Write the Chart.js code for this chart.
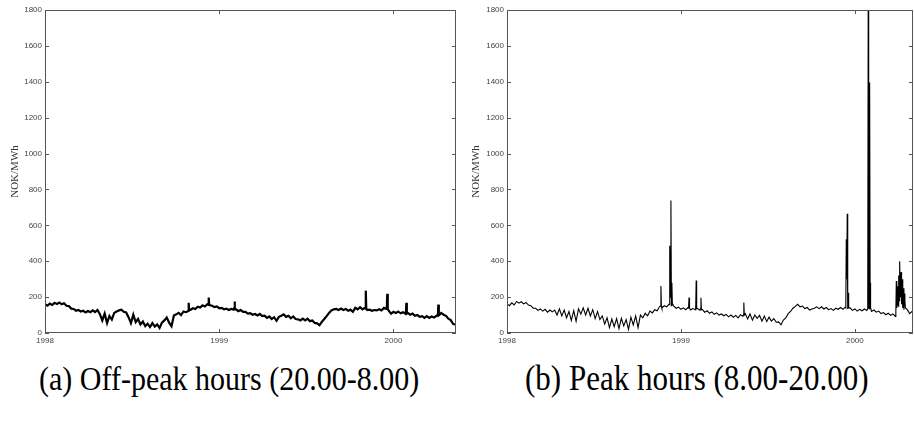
<!DOCTYPE html>
<html><head><meta charset="utf-8">
<script src="https://cdn.jsdelivr.net/npm/chart.js@4/dist/chart.umd.min.js"></script>
<style>
html,body{margin:0;padding:0;background:#fff;width:914px;height:430px;overflow:hidden;}
.c{position:absolute;top:0;}
.cap{position:absolute;font-family:"Liberation Serif","Times New Roman",serif;line-height:36px;color:#000;white-space:nowrap;transform:scaleY(1.15);transform-origin:left center;}
</style></head><body>
<div class="c" style="left:0;"><canvas id="c1" width="460" height="350"></canvas></div>
<div class="c" style="left:460px;"><canvas id="c2" width="454" height="350"></canvas></div>
<div class="cap" style="left:39px;top:361px;font-size:30px">(a) Off-peak hours (20.00-8.00)</div>
<div class="cap" style="left:525px;top:361px;font-size:31px">(b) Peak hours (8.00-20.00)</div>
<script>
// Days since 1 Jan 1998
const days = [
0,5,10,15,20,25,30,35,40,45,
50,55,60,65,70,75,80,85,90,95,
100,105,110,115,120,125,130,135,140,145,
150,155,160,165,170,175,180,185,190,195,
200,205,210,215,220,225,230,235,240,245,
250,255,260,265,270,275,280,285,290,295,
300,305,310,315,320,325,330,335,340,345,
350,355,360,365,370,375,380,385,390,395,
400,405,410,415,420,425,430,435,440,445,
450,455,460,465,470,475,480,485,490,495,
500,505,510,515,520,525,530,535,540,545,
550,555,560,565,570,575,580,585,590,595,
600,605,610,615,620,625,630,635,640,645,
650,655,660,665,670,675,680,685,690,695,
700,705,710,715,720,725,730,735,740,745,
750,755,760,765,770,775,780,785,790,795,
800,805,810,815,820,825,830,835,840,845,
850,855,860];

// (a) Off-peak price, NOK/MWh
const offPeak = [
160,152,164,156,168,162,170,160,166,152,
150,136,134,124,128,120,124,114,122,116,
126,116,128,105,70,108,55,95,75,112,
120,126,130,118,114,88,55,102,60,78,
48,64,38,52,33,55,36,48,28,58,
70,86,58,38,98,104,112,100,120,116,
124,130,138,134,146,142,154,148,160,156,
152,144,148,138,140,132,136,128,134,130,
132,122,128,118,118,108,110,102,106,98,
106,94,96,84,92,78,88,68,90,96,
104,90,96,82,92,78,76,70,80,70,
80,66,70,56,54,44,62,78,94,112,
126,132,134,128,136,128,134,124,130,118,
140,132,144,132,140,128,130,124,128,126,
132,126,140,134,124,108,118,112,120,110,
116,108,112,102,108,96,100,90,94,84,
94,84,92,86,96,98,112,102,96,80,
72,50,48];
// isolated spikes (with the days either side)
const offSpikeDays = [299,301,302, 342,343,344, 396,397,398, 671,672,673, 716,717,718, 756,757,758, 823,824,826];
const offSpikeValues = [120,168,126, 158,198,156, 136,176,134, 136,236,138, 136,218,134, 110,168,108, 98,158,100];

// (b) Peak price, NOK/MWh
const peak = [
162,152,168,156,176,166,174,162,170,156,
152,138,138,126,134,122,132,116,128,118,
128,100,135,95,128,85,120,70,125,65,
135,105,140,100,138,95,130,80,120,75,
95,50,85,30,78,35,80,25,82,40,
75,20,88,45,95,30,100,85,110,96,
122,112,130,124,146,138,152,146,160,152,
150,138,144,132,140,130,142,128,136,130,
136,126,130,116,124,110,118,104,112,100,
106,96,104,90,100,88,98,84,102,94,
108,78,106,72,100,82,98,66,94,64,
88,66,80,60,62,46,72,84,108,120,
138,148,160,146,150,136,142,128,134,138,
146,136,146,134,142,130,136,126,138,132,
142,132,144,134,140,126,134,122,132,124,
134,126,136,120,128,116,122,108,114,102,
110,98,106,92,170,260,200,180,130,108,
120,95,110];
const peakSpikeDays = [
322,323,324, 341,342,343,344,346,347, 381,382,383, 396,397,398, 406,407,408, 496,497,498,
711,712,713,714,716,717, 757,758,759,761,762,763,
816,817,818,819,821,822,823,824,826,827,828,829,831,832,833,834,836];
const peakSpikeValues = [
150,262,150, 158,486,200,738,280,165, 140,197,140, 136,293,136, 138,197,130, 100,170,100,
140,523,300,664,224,140, 135,1800,140,1396,280,140,
120,290,140,260,150,320,180,400,200,340,160,300,140,250,130,220,140];

const yearDays = [0, 365, 730];
const yearLabels = ['1998', '1999', '2000'];
const yTicks = [0, 200, 400, 600, 800, 1000, 1200, 1400, 1600, 1800];

const framePlugin = {
  id: 'frame',
  afterDraw(chart) {
    const {ctx, chartArea: a, scales: {x, y}} = chart;
    ctx.save();
    ctx.strokeStyle = '#555';
    ctx.lineWidth = 1;
    ctx.strokeRect(a.left + 0.5, a.top + 0.5, a.right - a.left - 1, a.bottom - a.top - 1);
    ctx.beginPath();
    yTicks.forEach(v => {
      const py = Math.round(y.getPixelForValue(v)) + 0.5;
      ctx.moveTo(a.left, py); ctx.lineTo(a.left + 4, py);
      ctx.moveTo(a.right - 4, py); ctx.lineTo(a.right, py);
    });
    yearDays.forEach(v => {
      const px = Math.round(x.getPixelForValue(v)) + 0.5;
      ctx.moveTo(px, a.top); ctx.lineTo(px, a.top + 4);
      ctx.moveTo(px, a.bottom); ctx.lineTo(px, a.bottom - 4);
    });
    ctx.stroke();
    ctx.restore();
  }
};

function makeChart(id, vals, sDays, sVals, o) {
  const pts = days.map((d, i) => ({x: d, y: vals[i]}))
    .concat(sDays.map((d, i) => ({x: d, y: sVals[i]})))
    .sort((p, q) => p.x - q.x);
  const tickFont = {family: 'Liberation Sans, Arial, sans-serif', size: 8};
  return new Chart(document.getElementById(id), {
    type: 'line',
    data: {datasets: [{data: pts, borderColor: '#000', borderWidth: o.lw, pointRadius: 0, tension: 0, fill: false}]},
    options: {
      responsive: false, animation: false, devicePixelRatio: 1,
      plugins: {legend: {display: false}, tooltip: {enabled: false}},
      layout: {padding: {top: 10, right: o.rp, left: 0, bottom: 0}},
      scales: {
        x: {
          type: 'linear', min: 0, max: o.xmax,
          afterBuildTicks: s => { s.ticks = yearDays.map(v => ({value: v})); },
          ticks: {callback: (v, i) => yearLabels[i], autoSkip: false, maxRotation: 0, padding: 3, font: tickFont, color: '#444'},
          grid: {display: false, drawTicks: false}, border: {display: false},
          afterFit: s => { s.height = 17; }
        },
        y: {
          min: 0, max: 1800,
          afterBuildTicks: s => { s.ticks = yTicks.map(v => ({value: v})); },
          ticks: {callback: v => String(v), padding: 3, font: tickFont, color: '#444'},
          grid: {display: false, drawTicks: false}, border: {display: false},
          title: {display: true, text: 'NOK/MWh', font: {family: 'Liberation Serif, Times New Roman, serif', size: 11}, color: '#333', padding: {top: o.tp, bottom: 0}},
          afterFit: s => { s.width = o.yw; }
        }
      }
    },
    plugins: [framePlugin]
  });
}

makeChart('c1', offPeak, offSpikeDays, offSpikeValues, {lw: 2.2, rp: 4, xmax: 861, yw: 45, tp: 8.4});
makeChart('c2', peak, peakSpikeDays, peakSpikeValues, {lw: 1.1, rp: 1, xmax: 852, yw: 47, tp: 10});
</script>
</body></html>
